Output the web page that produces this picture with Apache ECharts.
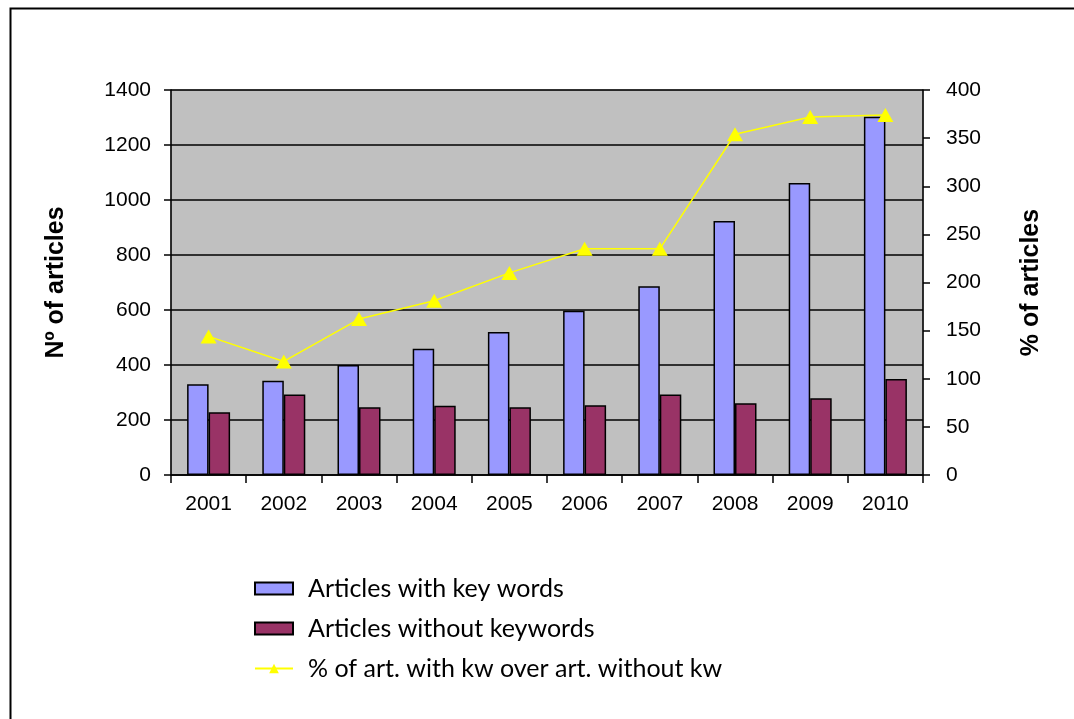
<!DOCTYPE html>
<html>
<head>
<meta charset="utf-8">
<script src="https://cdn.jsdelivr.net/npm/echarts@6/dist/echarts.min.js"></script>
<style>
  html, body { margin: 0; padding: 0; background: #ffffff; }
  #chart { width: 1074px; height: 719px; }
</style>
</head>
<body>
<div id="chart"></div>
<script>
// Yearly article counts and the ratio between them
const years = ['2001', '2002', '2003', '2004', '2005', '2006', '2007', '2008', '2009', '2010'];
const withKeywords = [330, 343, 400, 459, 520, 597, 686, 924, 1062, 1303];
const withoutKeywords = [228, 293, 246, 252, 246, 254, 293, 261, 279, 349];
const ratioPercent = [144, 118, 162, 181, 210, 235, 235, 354, 372, 374];

const seriesNames = [
  'Articles with key words',
  'Articles without keywords',
  '% of art. with kw over art. without kw'
];

const axisFont = 'Liberation Sans, Arial, sans-serif';

const chart = echarts.init(document.getElementById('chart'), null, { renderer: 'canvas' });

chart.setOption({
  backgroundColor: '#ffffff',
  animation: false,
  graphic: [
    {
      // frame around the chart area (runs off the right and bottom edges)
      type: 'rect',
      left: 8, top: 6,
      shape: { width: 1300, height: 1000 },
      style: { fill: 'none', stroke: '#000000', lineWidth: 2 },
      silent: true
    }
  ],
  grid: {
    left: 171, top: 90, right: 151, bottom: 244,
    show: true,
    backgroundColor: '#C0C0C0',
    borderColor: '#808080',
    borderWidth: 1
  },
  legend: {
    orient: 'vertical',
    left: 249, top: 571,
    itemWidth: 38, itemHeight: 12,
    itemGap: 15,
    data: [
      { name: seriesNames[0], icon: 'rect' },
      { name: seriesNames[1], icon: 'rect' },
      { name: seriesNames[2] }
    ],
    textStyle: { fontFamily: 'Lato, sans-serif', fontSize: 25, color: '#000000', padding: [0, 0, 0, 10] }
  },
  xAxis: {
    type: 'category',
    data: years,
    boundaryGap: true,
    axisLine: { lineStyle: { color: '#000000', width: 1.5 } },
    axisTick: { show: true, length: 8, lineStyle: { color: '#000000', width: 1.5 } },
    axisLabel: { color: '#000000', fontFamily: axisFont, fontSize: 21, margin: 19 },
    splitLine: { show: false }
  },
  yAxis: [
    {
      type: 'value',
      min: 0, max: 1400, interval: 200,
      name: 'Nº of articles',
      nameLocation: 'middle',
      nameRotate: 90,
      nameGap: 102,
      nameTextStyle: { color: '#000000', fontFamily: axisFont, fontSize: 25, fontWeight: 'bold' },
      axisLine: { show: true, lineStyle: { color: '#000000', width: 1.5 } },
      axisTick: { show: true, length: 7, lineStyle: { color: '#000000', width: 1.5 } },
      axisLabel: { color: '#000000', fontFamily: axisFont, fontSize: 21, margin: 20, formatter: (v) => String(v) },
      splitLine: { show: true, lineStyle: { color: '#000000', width: 1.5 } }
    },
    {
      type: 'value',
      min: 0, max: 400, interval: 50,
      name: '% of articles',
      nameLocation: 'middle',
      nameRotate: 90,
      nameGap: 96,
      nameTextStyle: { color: '#000000', fontFamily: axisFont, fontSize: 25, fontWeight: 'bold' },
      axisLine: { show: true, lineStyle: { color: '#000000', width: 1.5 } },
      axisTick: { show: true, length: 7, lineStyle: { color: '#000000', width: 1.5 } },
      axisLabel: { color: '#000000', fontFamily: axisFont, fontSize: 21, margin: 23, formatter: (v) => String(v) },
      splitLine: { show: false }
    }
  ],
  series: [
    {
      name: seriesNames[0],
      type: 'bar',
      yAxisIndex: 0,
      data: withKeywords,
      barWidth: 21.5,
      barGap: '0%',
      itemStyle: { color: '#9999FF', borderColor: '#000000', borderWidth: 1.5 }
    },
    {
      name: seriesNames[1],
      type: 'bar',
      yAxisIndex: 0,
      data: withoutKeywords,
      barWidth: 21.5,
      barGap: '0%',
      itemStyle: { color: '#993366', borderColor: '#000000', borderWidth: 1.5 }
    },
    {
      name: seriesNames[2],
      type: 'line',
      yAxisIndex: 1,
      data: ratioPercent,
      symbol: 'triangle',
      symbolSize: [16, 14],
      lineStyle: { color: '#FFFF00', width: 1.5 },
      itemStyle: { color: '#FFFF00' },
      z: 5
    }
  ]
});
</script>
</body>
</html>
